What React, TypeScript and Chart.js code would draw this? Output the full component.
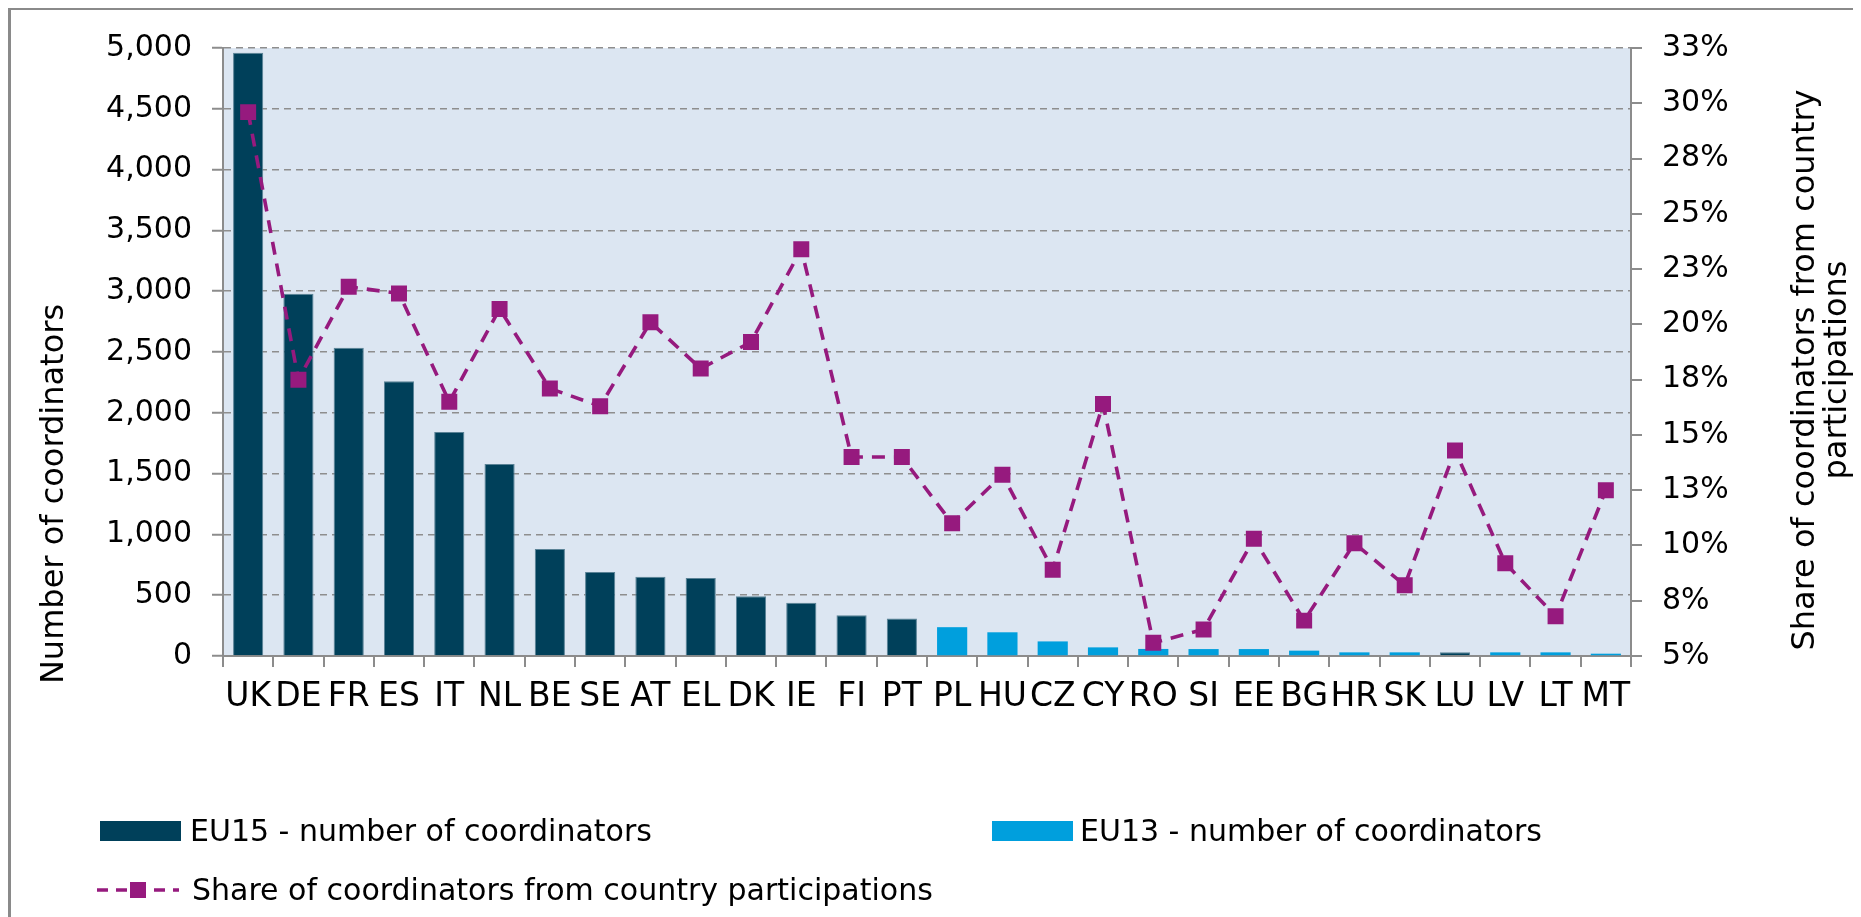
import React, { useEffect, useRef } from "react";
import { Chart, registerables } from "chart.js";

Chart.register(...registerables);

// ---------- data ----------
const categories = [
  "UK", "DE", "FR", "ES", "IT", "NL", "BE", "SE", "AT", "EL", "DK", "IE", "FI", "PT",
  "PL", "HU", "CZ", "CY", "RO", "SI", "EE", "BG", "HR", "SK", "LU", "LV", "LT", "MT",
];

const eu15Coordinators = [
  4960, 2980, 2535, 2260, 1843, 1578, 880, 690, 652, 642, 492, 437, 336, 308,
  null, null, null, null, null, null, null, null, null, null, 30, null, null, null,
];

const eu13Coordinators = [
  null, null, null, null, null, null, null, null, null, null, null, null, null, null,
  237, 195, 120, 71, 58, 57, 57, 44, 30, 30, null, 30, 30, 19,
];

const shareOfCoordinators = [
  29.6, 17.5, 21.7, 21.4, 16.5, 20.7, 17.1, 16.3, 20.1, 18.0, 19.2, 23.4, 14.0, 14.0,
  11.0, 13.2, 8.9, 16.4, 5.6, 6.2, 10.3, 6.6, 10.1, 8.2, 14.3, 9.2, 6.8, 12.5,
];

const leftAxisMin = 0;
const leftAxisMax = 5000;
const leftAxisStep = 500;
const rightAxisMin = 5;
const rightAxisMax = 32.5;
const rightAxisStep = 2.5;

const seriesLabels = [
  "EU15 - number of coordinators",
  "EU13 - number of coordinators",
  "Share of coordinators from country participations",
];
const leftTitle = "Number of coordinators";
const rightTitleLines = ["Share of coordinators from country", "participations"];

// ---------- styles ----------
const FONT = '"DejaVu Sans", Verdana, sans-serif';
const EU15_COLOR = "#00405A";
const EU13_COLOR = "#009FDD";
const LINE_COLOR = "#961A7E";
const AXIS_COLOR = "#8C8C8C";
const GRID_COLOR = "#8E8E8E";
const PLOT_BG = "#DCE6F2";

const CANVAS_W = 1850;
const CANVAS_H = 907;

const plotBgPlugin = {
  id: "plotBg",
  beforeDraw(chart: any) {
    const { ctx, chartArea } = chart;
    ctx.save();
    ctx.fillStyle = PLOT_BG;
    ctx.fillRect(chartArea.left, chartArea.top, chartArea.right - chartArea.left, chartArea.bottom - chartArea.top);
    ctx.restore();
  },
};

const axisTitlesPlugin = {
  id: "axisTitles",
  afterDraw(chart: any) {
    const ctx = chart.ctx;
    ctx.save();
    ctx.fillStyle = "#000";
    ctx.font = `32px ${FONT}`;
    ctx.textAlign = "center";
    ctx.textBaseline = "middle";
    ctx.save();
    ctx.translate(44, 484);
    ctx.rotate(-Math.PI / 2);
    ctx.fillText(leftTitle, 0, 0);
    ctx.restore();
    ctx.save();
    ctx.translate(1811, 360);
    ctx.rotate(-Math.PI / 2);
    ctx.fillText(rightTitleLines[0], 0, -16);
    ctx.fillText(rightTitleLines[1], 0, 16);
    ctx.restore();
    ctx.restore();
  },
};

function ChartCanvas() {
  const ref = useRef<HTMLCanvasElement | null>(null);
  useEffect(() => {
    if (!ref.current) return;
    const chart = new Chart(ref.current, {
      data: {
        labels: categories,
        datasets: [
          {
            type: "line",
            label: seriesLabels[2],
            data: shareOfCoordinators,
            yAxisID: "y1",
            borderColor: LINE_COLOR,
            backgroundColor: LINE_COLOR,
            borderWidth: 3.6,
            borderDash: [13, 9],
            pointStyle: "rect",
            pointRadius: 11.3,
            pointBorderWidth: 0,
            pointBackgroundColor: LINE_COLOR,
            tension: 0,
            order: 0,
          },
          {
            type: "bar",
            label: seriesLabels[0],
            data: eu15Coordinators,
            yAxisID: "y",
            backgroundColor: EU15_COLOR,
            borderColor: "#5A8296",
            borderWidth: { top: 1, left: 1, right: 1, bottom: 0 },
            grouped: false,
            barPercentage: 0.6,
            categoryPercentage: 1,
            order: 1,
          },
          {
            type: "bar",
            label: seriesLabels[1],
            data: eu13Coordinators,
            yAxisID: "y",
            backgroundColor: EU13_COLOR,
            grouped: false,
            barPercentage: 0.6,
            categoryPercentage: 1,
            order: 2,
          },
        ],
      } as any,
      options: {
        responsive: false,
        animation: false,
        maintainAspectRatio: false,
        layout: { padding: { top: 33, left: 0, right: 0, bottom: 0 } },
        plugins: {
          legend: { display: false },
          tooltip: { enabled: false },
          title: { display: false },
        },
        scales: {
          x: {
            offset: true,
            grid: {
              display: true,
              drawOnChartArea: false,
              drawTicks: true,
              offset: true,
              tickLength: 11,
              color: AXIS_COLOR,
              lineWidth: 2,
            },
            border: { display: true, color: AXIS_COLOR, width: 2 },
            ticks: {
              autoSkip: false,
              maxRotation: 0,
              minRotation: 0,
              padding: 11,
              color: "#000",
              font: { family: FONT, size: 33 },
            },
            afterFit: (s: any) => {
              s.height = 261;
            },
          },
          y: {
            position: "left",
            min: leftAxisMin,
            max: leftAxisMax,
            ticks: {
              stepSize: leftAxisStep,
              padding: 20,
              color: "#000",
              font: { family: FONT, size: 30 },
              callback: (v: any) => Number(v).toLocaleString("en-US"),
            },
            grid: {
              color: GRID_COLOR,
              lineWidth: 1.5,
              tickLength: 11,
              tickColor: AXIS_COLOR,
              tickWidth: 2,
              tickBorderDash: [],
            },
            border: { display: true, color: AXIS_COLOR, width: 2, dash: [7, 5] },
            afterFit: (s: any) => {
              s.width = 212;
            },
          },
          y1: {
            position: "right",
            min: rightAxisMin,
            max: rightAxisMax,
            ticks: {
              stepSize: rightAxisStep,
              padding: 20,
              color: "#000",
              font: { family: FONT, size: 30 },
              callback: (v: any) => Math.round(Number(v)) + "%",
            },
            grid: {
              drawOnChartArea: false,
              drawTicks: true,
              tickLength: 11,
              color: AXIS_COLOR,
              lineWidth: 2,
            },
            border: { display: true, color: AXIS_COLOR, width: 2 },
            afterFit: (s: any) => {
              s.width = 230;
            },
          },
        },
      } as any,
      plugins: [plotBgPlugin, axisTitlesPlugin],
    });
    return () => chart.destroy();
  }, []);
  return <canvas ref={ref} width={CANVAS_W} height={CANVAS_H} style={{ position: "absolute", left: 0, top: 0, width: CANVAS_W, height: CANVAS_H }} />;
}

function LegendItem(props: { left: number; top: number; textLeft: number; label: string; kind: "box" | "line"; color: string }) {
  const { left, top, textLeft, label, kind, color } = props;
  return (
    <>
      {kind === "box" ? (
        <div style={{ position: "absolute", left, top: top - 10, width: 81, height: 20, background: color }} />
      ) : (
        <svg style={{ position: "absolute", left, top: top - 12 }} width={82} height={24}>
          <line x1={0} y1={12} x2={82} y2={12} stroke={color} strokeWidth={3.4} strokeDasharray="11 8" />
          <rect x={33} y={4} width={16} height={16} fill={color} />
        </svg>
      )}
      <div
        style={{
          position: "absolute",
          left: textLeft,
          top: top - 20,
          height: 40,
          lineHeight: "40px",
          fontFamily: FONT,
          fontSize: 30,
          color: "#000",
          whiteSpace: "nowrap",
        }}
      >
        {label}
      </div>
    </>
  );
}

export default function App() {
  return (
    <div
      style={{
        position: "relative",
        width: 1853,
        height: 909,
        boxSizing: "border-box",
        borderTop: "2px solid #8A8A8A",
        borderLeft: "3px solid #8A8A8A",
        overflow: "hidden",
        background: "#fff",
      }}
    >
      <ChartCanvas />
      <LegendItem left={89} top={821} textLeft={179} label={seriesLabels[0]} kind="box" color={EU15_COLOR} />
      <LegendItem left={981} top={821} textLeft={1069} label={seriesLabels[1]} kind="box" color={EU13_COLOR} />
      <LegendItem left={86} top={880} textLeft={181} label={seriesLabels[2]} kind="line" color={LINE_COLOR} />
    </div>
  );
}
